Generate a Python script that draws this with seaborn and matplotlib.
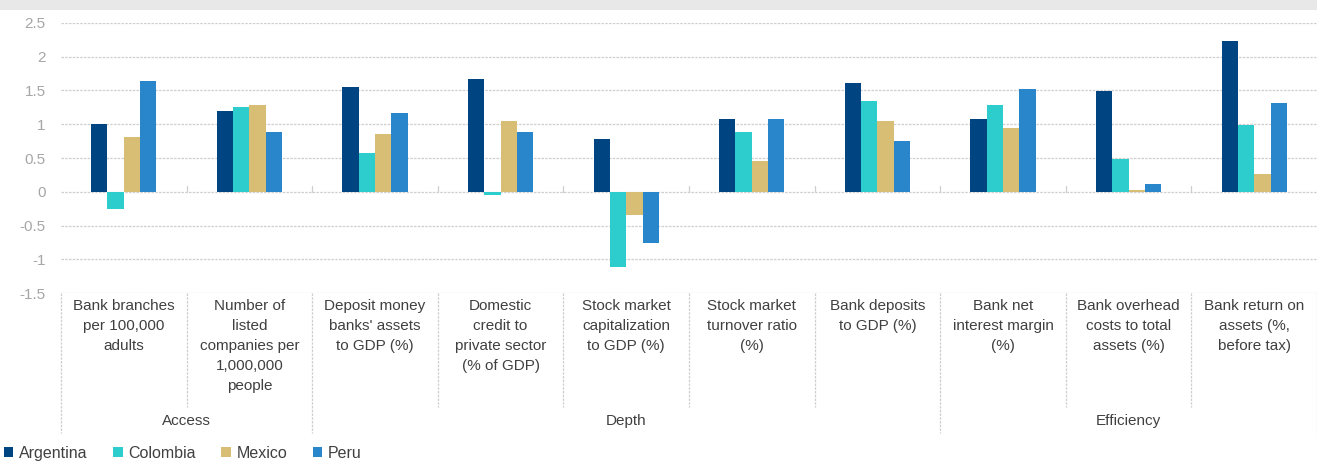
import numpy as np
import matplotlib.pyplot as plt
import matplotlib.transforms as mtransforms
from matplotlib.patches import Patch, Rectangle
import pandas as pd
import seaborn as sns

# Indicator labels (x axis) and the group they belong to
indicators = [
    "Bank branches\nper 100,000\nadults",
    "Number of\nlisted\ncompanies per\n1,000,000\npeople",
    "Deposit money\nbanks' assets\nto GDP (%)",
    "Domestic\ncredit to\nprivate sector\n(% of GDP)",
    "Stock market\ncapitalization\nto GDP (%)",
    "Stock market\nturnover ratio\n(%)",
    "Bank deposits\nto GDP (%)",
    "Bank net\ninterest margin\n(%)",
    "Bank overhead\ncosts to total\nassets (%)",
    "Bank return on\nassets (%,\nbefore tax)",
]
groups = ["Access", "Depth", "Efficiency"]
group_sizes = [2, 5, 3]

countries = ["Argentina", "Colombia", "Mexico", "Peru"]
argentina = [1.00, 1.19, 1.55, 1.67, 0.78, 1.07, 1.61, 1.07, 1.49, 2.23]
colombia = [-0.25, 1.25, 0.57, -0.04, -1.11, 0.89, 1.34, 1.28, 0.49, 0.99]
mexico = [0.81, 1.28, 0.86, 1.04, -0.34, 0.45, 1.04, 0.95, 0.03, 0.27]
peru = [1.64, 0.89, 1.16, 0.89, -0.76, 1.07, 0.75, 1.52, 0.12, 1.31]

colors = ["#004481", "#2DCCCD", "#D8BE75", "#2A86CA"]

# Long-form table for seaborn
rows = []
for name, vals in zip(countries, [argentina, colombia, mexico, peru]):
    for ind, v in zip(indicators, vals):
        rows.append({"indicator": ind, "country": name, "value": v})
df = pd.DataFrame(rows)

sns.set_style("white")
plt.rcParams["font.family"] = ["Liberation Sans", "DejaVu Sans"]

W, H = 1317, 462
fig = plt.figure(figsize=(W / 100, H / 100), dpi=100)
ax = fig.add_axes([61 / W, 1 - 293.3 / H, 1 - 61 / W, (293.3 - 22.7) / H])

# thin gray band at the very top
fig.patches.append(Rectangle((0, 1 - 9.5 / H), 1, 9.5 / H, transform=fig.transFigure,
                             facecolor="#E8E8E8", edgecolor="none", zorder=0))

sns.barplot(data=df, x="indicator", y="value", hue="country", order=indicators,
            hue_order=countries, palette=colors, width=0.52, gap=0,
            saturation=1, linewidth=0, legend=False, ax=ax, zorder=3)

grid_color = "#CFCFCF"
ax.set_ylim(-1.5, 2.5)
ax.set_xlim(-0.5, len(indicators) - 0.5)
ax.set_yticks(np.arange(-1.5, 2.51, 0.5))
ax.set_yticklabels([f"{t:g}" for t in np.arange(-1.5, 2.51, 0.5)])
ax.yaxis.grid(True, color=grid_color, linestyle=(0, (2, 1)), linewidth=0.9, zorder=0)
ax.set_axisbelow(True)
for s in ax.spines.values():
    s.set_visible(False)
ax.tick_params(axis="y", length=0, pad=11, labelsize=11, labelcolor="#A6A6A6")
ax.tick_params(axis="x", length=0, pad=4, labelsize=11, labelcolor="#404040")
for lab in ax.get_xticklabels():
    lab.set_linespacing(1.55)
ax.set_xlabel("")
ax.set_ylabel("")

trans = mtransforms.blended_transform_factory(ax.transData, ax.transAxes)
bounds = np.arange(len(indicators) + 1) - 0.5

# small ticks on the zero line
for b in bounds[1:-1]:
    ax.plot([b, b], [0, 0.09], color=grid_color, linewidth=0.9, zorder=1)

# separators below the plot area
group_edges = np.concatenate([[0], np.cumsum(group_sizes)]) - 0.5
for b in bounds:
    low = -0.515 if b in group_edges else -0.42
    ax.plot([b, b], [0, low], transform=trans, clip_on=False, color=grid_color,
            linestyle=(0, (2, 1)), linewidth=0.9)

# group labels
for g, lo, hi in zip(groups, group_edges[:-1], group_edges[1:]):
    ax.text((lo + hi) / 2, -0.472, g, transform=trans, ha="center", va="center",
            fontsize=11, color="#404040")

handles = [Patch(facecolor=c, edgecolor="none") for c in colors]
fig.legend(handles, countries, loc="lower left", bbox_to_anchor=(-0.008, -0.028),
           ncol=4, frameon=False, fontsize=11.5, handlelength=0.6, handleheight=0.6,
           handletextpad=0.35, columnspacing=1.6, labelcolor="#404040")

fig.savefig("out.png", dpi=100)
